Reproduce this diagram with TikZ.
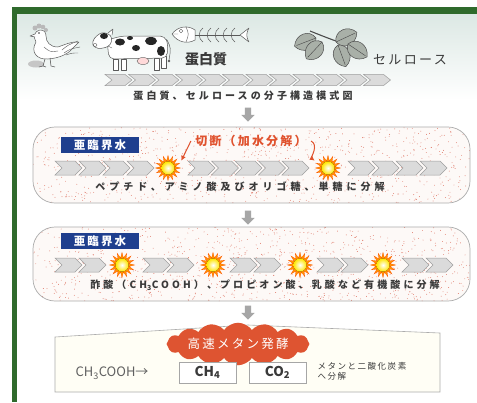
\documentclass[tikz,border=0pt]{standalone}
\usepackage{fontspec}
\setmainfont{Noto Sans CJK JP}
\newfontfamily\jpwide[LetterSpace=40]{Noto Sans CJK JP}
\newfontfamily\jpcap[LetterSpace=31]{Noto Sans CJK JP}
\newfontfamily\jpmid[LetterSpace=18]{Noto Sans CJK JP}
\usetikzlibrary{shapes.geometric,shapes.symbols,shapes.arrows,arrows.meta}

\definecolor{frame}{HTML}{2F6A2C}
\definecolor{ink}{HTML}{3A3A3A}
\definecolor{waterblue}{HTML}{1F3F8E}
\definecolor{cutred}{HTML}{E0522E}
\definecolor{fermred}{HTML}{DE5431}
\definecolor{leafgray}{HTML}{A9B0A8}
\definecolor{skytop}{HTML}{DCE8E4}
\definecolor{speck}{HTML}{E07A6A}
\definecolor{tank}{HTML}{FDF9F7}

\tikzset{
  animal/.style={draw=gray!70!black, fill=white, line width=0.5pt, line join=round},
  spot/.style={fill=black!85},
  leaf/.style={draw=gray!60!black, fill=leafgray, line width=0.5pt},
  chevline/.style={draw=gray!75, fill=gray!28, line width=0.5pt},
  reactor/.style={draw=gray!65, line width=0.7pt, rounded corners=22pt},
  waterlabel/.style={fill=waterblue, text=white, minimum width=78pt, minimum height=16pt,
    inner sep=0pt, font=\jpmid\fontsize{11.5}{12}\selectfont\bfseries},
  caption/.style={text=ink, font=\jpcap\fontsize{10}{11}\selectfont\bfseries},
  downarrow/.style={single arrow, shape border rotate=270, fill=gray!70, draw=none,
    minimum height=14pt, minimum width=13pt, inner sep=3pt, single arrow head extend=3.5pt},
  cutarrow/.style={draw=cutred, line width=1pt, -{Latex[length=5pt,width=5pt]}},
  gasbox/.style={draw=gray!70, fill=white, line width=0.6pt, minimum width=57pt,
    minimum height=21pt, inner sep=0pt, text=ink, font=\fontsize{13.5}{14}\selectfont\bfseries},
  chev/.pic={\draw[chevline] (0,-7) -- (20,-7) -- (27,0) -- (20,7) -- (0,7) -- (7,0) -- cycle;},
  sun/.pic={
    \node[star, star points=16, star point ratio=1.75, minimum size=25pt, inner sep=0pt,
      fill=orange!85!yellow, draw=orange!70!red, line width=0.3pt] (-ray) at (0,0) {};
    \fill[inner color=white, outer color=yellow!80!orange] (0,0) circle (6.5);
  },
  lf/.pic={
    \draw[leaf] (0,0) .. controls (3,-11) and (18,-11) .. (23,0) .. controls (18,11) and (3,11) .. (0,0);
    \draw[gray!55!black, line width=0.4pt] (0,0) -- (21,0);
  }
}

\begin{document}
\begin{tikzpicture}[x=1pt, y=-1pt]
\useasboundingbox (0,0) rectangle (477,402);
\fill[white] (0,0) rectangle (477,402);

% sky tint behind the animals
\shade[top color=skytop, bottom color=white] (17,14) rectangle (477,100);

% frame
\fill[frame] (12,7) rectangle (477,14);
\fill[frame] (12,7) rectangle (17,402);

% chicken
\fill[gray!45] (36,64) ellipse (8 and 3.5);
\draw[animal] (40,30) .. controls (34,31) and (33,37) .. (36,42)
  .. controls (30,52) and (37,60) .. (48,59) .. controls (60,58) and (68,54) .. (73,48)
  -- (79,42) .. controls (72,41) and (64,45) .. (58,47)
  .. controls (50,47) and (46,42) .. (46,36) .. controls (46,32) and (44,30) .. (40,30);
\draw[gray!70!black, line width=0.4pt] (62,50) .. controls (68,45) .. (78,41)
  (64,53) .. controls (70,49) .. (80,47) (66,55) .. controls (72,53) .. (78,53)
  (44,47) .. controls (50,52) .. (58,51);
\fill[gray!55] (35,28) circle (2.5) (39,26) circle (2.5) (43,27) circle (2.3) (46,30) circle (2);
\draw[animal] (35,34) -- (30,36) -- (35,37);
\fill[gray!40!black] (39,33) circle (0.8);
\draw[gray!70!black, line width=0.6pt] (45,59) -- (43,66) -- (39,67) (43,66) -- (46,67)
  (50,58) -- (51,66) -- (55,67);

% cow
\draw[animal] (113,59) rectangle (118,70);
\draw[animal] (121,59) rectangle (126,70);
\draw[animal] (154,58) rectangle (159,70);
\draw[animal] (161,56) rectangle (166,68);
\draw[animal, rounded corners=5pt] (107,40) -- (122,36) -- (165,36) -- (168,44) -- (167,58)
  -- (109,59) -- cycle;
\fill[pink!60!white, draw=gray!70!black, line width=0.4pt] (143,61) ellipse (6 and 3.5);
\draw[gray!70!black, line width=0.5pt] (167,40) .. controls (171,48) .. (169,60);
\fill[gray!70!black] (169,61) circle (1.3);
\fill[spot] (120,42) ellipse (5 and 3.5);
\fill[spot] (136,48) ellipse (4 and 3);
\fill[spot] (151,41) ellipse (6 and 4);
\fill[spot] (161,51) ellipse (4 and 5);
\fill[spot] (130,38) ellipse (3 and 2);
\draw[animal, rounded corners=3pt] (111,35) -- (102,32) -- (94,38) -- (92,45) -- (98,49)
  -- (108,47) -- (112,42) -- cycle;
\fill[spot] (104,36) ellipse (4 and 3);
\draw[animal] (108,33) -- (113,29) -- (112,35);
\draw[gray!70!black, line width=0.4pt] (95,45) ellipse (2 and 1.5) (108,46) -- (112,48);

% fish bones
\draw[animal] (172,34) .. controls (178,26) and (188,25) .. (195,30) -- (195,40)
  .. controls (188,44) and (178,43) .. (172,34) -- cycle;
\draw[gray!70!black, line width=0.4pt] (178,34) -- (172,34) (186,27) .. controls (189,34) .. (186,42);
\draw[gray!70!black] (181,31) circle (1.8);
\draw[gray!70!black, line width=0.7pt] (195,35) -- (240,35);
\foreach \k in {200,208,216,224,232}
  \draw[gray!70!black, line width=0.5pt] (\k+3,28) .. controls (\k-2,31) and (\k-2,39) .. (\k+3,42);
\draw[animal] (240,35) -- (249,28) .. controls (246,33) and (246,37) .. (249,42) -- cycle;

\node[text=ink, font=\fontsize{14}{14}\selectfont\bfseries] (protein) at (206,59) {蛋白質};

% leaves on a twig
\draw[gray!60!black, line width=1.1pt] (310,31) .. controls (325,37) and (340,43) .. (352,46);
\pic[rotate=201] at (316,38) {lf};
\pic[rotate=227] at (322,42) {lf};
\pic[rotate=25] at (336,42) {lf};
\pic[rotate=-70] at (338,45) {lf};
\pic[rotate=-34] at (348,44) {lf};

\node[text=ink, font=\jpmid\fontsize{13}{13}\selectfont] (cellulose) at (410,60) {セルロース};

% molecule chain
\foreach \i in {0,...,11}
  \pic[yscale=0.8] at (105+23.5*\i,80) {chev};
\node[caption] (model) at (243,96) {蛋白質、セルロースの分子構造模式図};

\node[downarrow] (a1) at (248,113) {};

% first subcritical water stage
\fill[tank, rounded corners=22pt] (33,127) rectangle (470,203);
\begin{scope}
  \clip[rounded corners=22pt] (33,127) rectangle (470,203);
  \pgfmathsetseed{17}
  \foreach \i in {1,...,950}
    \fill[speck] (33+437*rnd,127+76*rnd) circle (0.45);
\end{scope}
\draw[reactor] (33,127) rectangle (470,203);
\node[waterlabel] (w1) at (100,145) {亜臨界水};
\node[text=cutred, font=\jpmid\fontsize{12}{12}\selectfont\bfseries] (cut) at (251,141) {切断（加水分解）};

\foreach \i in {0,...,3} \pic at (55+24*\i,168) {chev};
\foreach \i in {0,...,4} \pic at (188+23.5*\i,168) {chev};
\foreach \i in {0,...,3} \pic at (348+24*\i,168) {chev};
\pic (s1) at (168,168) {sun};
\pic (s2) at (328,168) {sun};
\draw[cutarrow] ([xshift=-1pt]cut.west) -- ([xshift=4pt,yshift=-2pt]s1-ray.north east);
\draw[cutarrow] ([xshift=1pt]cut.east) .. controls +(8,4) and +(-4,-3) .. ([xshift=-4pt,yshift=-2pt]s2-ray.north west);

\node[text=ink, font=\jpwide\fontsize{10}{11}\selectfont\bfseries] (peptide) at (240,187)
  {ペプチド、アミノ酸及びオリゴ糖、単糖に分解};

\node[downarrow] (a2) at (248,216) {};

% second subcritical water stage
\fill[tank, rounded corners=22pt] (33,227) rectangle (470,301);
\begin{scope}
  \clip[rounded corners=22pt] (33,227) rectangle (470,301);
  \pgfmathsetseed{29}
  \foreach \i in {1,...,950}
    \fill[speck] (33+437*rnd,227+74*rnd) circle (0.45);
\end{scope}
\draw[reactor] (33,227) rectangle (470,301);
\node[waterlabel] (w2) at (100,241) {亜臨界水};

\foreach \x in {55,143,230,317,402}
  \foreach \i in {0,1} \pic at (\x+24*\i,265) {chev};
\foreach \x/\n in {122/t1,213/t2,300/t3,383/t4}
  \pic (\n) at (\x,265) {sun};

\node[caption] (acid) at (265,285) {酢酸（CH\textsubscript{3}COOH）、プロピオン酸、乳酸など有機酸に分解};

\node[downarrow] (a3) at (248,311) {};

% methane fermentation
\draw[draw=gray!65, fill=yellow!4!white, line width=0.6pt]
  (55,337) -- (248,325) -- (440,333) -- (440,392) -- (55,392) -- cycle;
\node[cloud, cloud puffs=16, cloud puff arc=110, aspect=5, fill=fermred, draw=none,
  minimum width=136pt, minimum height=29pt, inner sep=0pt, text=white,
  font=\jpmid\fontsize{12.5}{13}\selectfont] (ferm) at (238,344) {高速メタン発酵};

\node[text=gray!75!black, font=\fontsize{13}{13}\selectfont, anchor=west] (acetic) at (72,373)
  {CH\textsubscript{3}COOH→};
\node[gasbox] (ch4) at (207.5,372.5) {CH\textsubscript{4}};
\node[gasbox] (co2) at (277.5,372.5) {CO\textsubscript{2}};
\node[text=ink, font=\jpmid\fontsize{8.5}{10}\selectfont, align=left, anchor=west] (gas) at (314,371)
  {メタンと二酸化炭素\\へ分解};
\end{tikzpicture}
\end{document}
